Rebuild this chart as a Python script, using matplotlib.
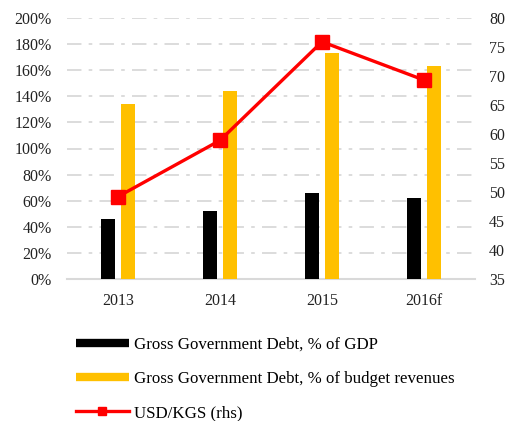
import matplotlib
matplotlib.use("Agg")
import matplotlib.pyplot as plt
from matplotlib.lines import Line2D
import numpy as np

years = ["2013", "2014", "2015", "2016f"]
debt_gdp = [46, 52, 66, 62]
debt_rev = [134, 144, 173, 163]
usd_kgs = [49.2, 58.9, 75.9, 69.3]
left_ticks = list(range(0, 201, 20))
right_ticks = list(range(35, 81, 5))

plt.rcParams['font.family'] = ['Liberation Serif', 'DejaVu Serif']
fig = plt.figure(figsize=(5.09, 4.21), dpi=100)
ax = fig.add_axes([67/509, 1-279/421, (475-67)/509, (279-18)/421])
x = np.arange(len(years))
w = 0.137
ax.bar(x - 0.1, debt_gdp, width=w, color='black', zorder=3)
ax.bar(x + 0.1, debt_rev, width=w, color='#FFC000', zorder=3)
ax.set_xlim(-0.5, 3.5)
ax.set_ylim(0, 200)
ax.set_yticks(left_ticks)
ax.set_yticklabels([f"{t}%" for t in left_ticks])
ax.set_xticks(x)
ax.set_xticklabels(years)
for t in left_ticks[1:]:
    ax.axhline(t, color='#D9D9D9', lw=1.3, dashes=(8, 4, 2, 4), zorder=1)
for s in ['top', 'right', 'left']:
    ax.spines[s].set_visible(False)
ax.spines['bottom'].set_color('#D9D9D9')
ax.spines['bottom'].set_linewidth(1.5)
ax.tick_params(axis='both', length=0, labelsize=11.5, colors='#222222')
ax.tick_params(axis='y', pad=11)
ax.tick_params(axis='x', pad=10)

ax2 = ax.twinx()
ax2.plot(x, usd_kgs, color='#FF0000', lw=2.4, marker='s', markersize=10, zorder=4)
ax2.set_ylim(35, 80)
ax2.set_yticks(right_ticks)
for s in ['top', 'right', 'left', 'bottom']:
    ax2.spines[s].set_visible(False)
ax2.tick_params(axis='y', length=0, labelsize=11.5, colors='#222222', pad=10)

handles = [
    Line2D([], [], color='black', lw=6, solid_capstyle='butt'),
    Line2D([], [], color='#FFC000', lw=6, solid_capstyle='butt'),
    Line2D([], [], color='#FF0000', lw=2.4, marker='s', markersize=6),
]
labels = ["Gross Government Debt, % of GDP",
          "Gross Government Debt, % of budget revenues",
          "USD/KGS (rhs)"]
fig.legend(handles, labels, loc='upper left', bbox_to_anchor=(71/509, 1-332/421),
           frameon=False, handlelength=3.1, handletextpad=0.3, labelspacing=1.07,
           borderaxespad=0, borderpad=0.3,
           prop={'family': 'Liberation Serif', 'size': 12.2})
fig.savefig("out.png", dpi=100)
